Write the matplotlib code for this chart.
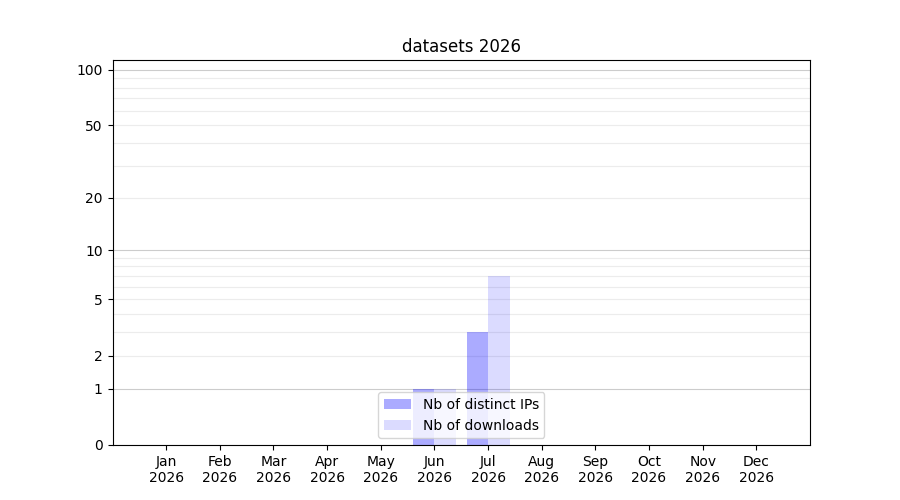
import numpy as np
import matplotlib
matplotlib.use('Agg')
import matplotlib.pyplot as plt

months = ['Jan', 'Feb', 'Mar', 'Apr', 'May', 'Jun', 'Jul', 'Aug', 'Sep', 'Oct', 'Nov', 'Dec']
year = 2026
distinct_ips = [0, 0, 0, 0, 0, 1, 3, 0, 0, 0, 0, 0]
downloads = [0, 0, 0, 0, 0, 1, 7, 0, 0, 0, 0, 0]

major_ticks = [0, 1, 2, 5, 10, 20, 50, 100]
decades = [1, 10, 100]

def fwd(v):
    return np.log10(1 + np.maximum(v, 0))

def inv(v):
    return 10 ** v - 1

fig, ax = plt.subplots(figsize=(9, 5), dpi=100)
ax.set_yscale('function', functions=(fwd, inv))

x = np.arange(1, len(months) + 1)
ax.bar(x - 0.2, distinct_ips, width=0.4, color='b', alpha=0.33, label='Nb of distinct IPs')
ax.bar(x + 0.2, downloads, width=0.4, color='b', alpha=0.14, label='Nb of downloads')

ax.set_xticks(x)
ax.set_xticklabels(['%s\n%d' % (m, year) for m in months])
ax.set_xlim(0, 13)

ax.set_ylim(0, 113)
ax.set_yticks(major_ticks)
ax.set_yticklabels([str(t) for t in major_ticks])
minor = [m * d for d in [1, 10] for m in range(2, 10)]
ax.set_yticks(minor, minor=True)
ax.tick_params(axis='y', which='minor', length=0)
ax.grid(True, axis='y', which='minor', color='#ececec', linewidth=0.8)
ax.grid(True, axis='y', which='major', color='#cccccc', linewidth=0.8)
# only the decades get the darker line
for t, val in zip(ax.yaxis.get_major_ticks(), major_ticks):
    if val not in decades:
        t.gridline.set_color('#ececec')
ax.set_axisbelow(True)

ax.set_title('datasets %d' % year)
ax.legend(loc='lower center')

plt.savefig('out.png')
